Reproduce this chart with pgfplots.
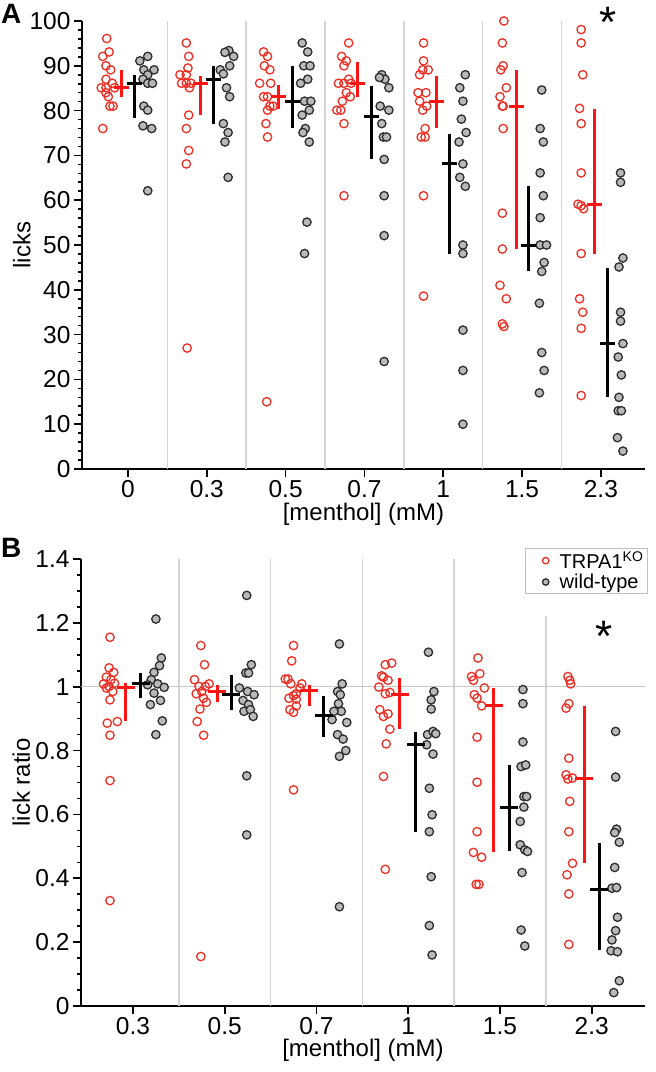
\documentclass[border=0pt]{standalone}
\usepackage{fontspec}
\setmainfont{Liberation Sans}
\usepackage{pgfplots}
\usepackage{pgfplotstable}
\pgfplotsset{compat=1.18}

\definecolor{koRed}{RGB}{238,45,35}
\definecolor{koFill}{RGB}{255,222,216}
\definecolor{barRed}{RGB}{255,20,20}
\definecolor{wtEdge}{RGB}{45,45,45}
\definecolor{wtFill}{RGB}{185,185,185}
\definecolor{sepGray}{RGB}{212,212,212}

% panel A: licks, x = group index + jitter
\pgfplotstableread{
x y
-0.27 96.1
-0.32 92.1
-0.24 93.1
-0.28 90.0
-0.22 89.1
-0.28 87.0
-0.20 86.1
-0.34 85.1
-0.28 85.1
-0.17 85.1
-0.28 84.0
-0.25 83.1
-0.23 81.0
-0.19 81.0
-0.32 76.0
0.74 95.1
0.77 92.1
0.76 89.5
0.66 88.0
0.74 88.0
0.68 86.1
0.74 86.1
0.80 86.1
0.78 85.1
0.77 79.0
0.74 76.0
0.77 71.1
0.74 68.1
0.75 27.0
1.72 93.1
1.77 92.1
1.73 90.0
1.80 89.1
1.67 86.1
1.81 86.1
1.72 83.1
1.77 83.1
1.84 81.0
1.80 81.0
1.77 80.1
1.75 77.1
1.77 74.1
1.76 15.0
2.80 95.1
2.71 92.1
2.77 91.1
2.74 90.0
2.80 87.0
2.67 86.1
2.74 86.1
2.83 86.1
2.77 84.0
2.82 83.1
2.72 82.1
2.65 80.1
2.70 80.1
2.74 77.1
2.74 61.0
3.75 95.1
3.75 91.1
3.70 88.0
3.74 89.1
3.81 89.1
3.68 84.0
3.78 84.0
3.70 82.1
3.79 81.0
3.74 80.1
3.77 76.0
3.72 74.1
3.77 74.1
3.75 61.0
3.75 38.6
4.77 100.0
4.75 95.1
4.76 90.0
4.73 89.1
4.80 85.1
4.72 83.1
4.75 81.0
4.76 81.0
4.76 76.0
4.75 57.1
4.75 49.1
4.72 41.0
4.80 38.0
4.75 32.4
4.77 31.8
5.75 98.1
5.75 95.1
5.77 88.0
5.73 80.5
5.75 77.1
5.75 66.1
5.71 59.1
5.75 58.8
5.78 58.1
5.75 48.1
5.73 38.0
5.77 35.0
5.75 31.4
5.75 16.4
}\Ako

\pgfplotstableread{
x y
0.25 92.1
0.15 91.1
0.20 89.1
0.33 89.1
0.25 88.0
0.19 87.0
0.25 86.1
0.31 86.1
0.20 81.0
0.25 80.1
0.19 76.6
0.30 76.0
0.25 62.1
1.28 93.4
1.23 93.0
1.34 92.1
1.29 90.0
1.17 89.1
1.21 88.2
1.25 85.1
1.29 83.1
1.21 77.1
1.27 75.1
1.23 73.0
1.27 65.1
2.21 95.1
2.28 93.1
2.23 90.0
2.31 90.0
2.28 87.0
2.19 86.1
2.24 82.1
2.32 82.1
2.30 80.1
2.21 79.0
2.25 76.0
2.22 75.1
2.30 73.0
2.27 55.1
2.24 48.1
3.22 88.0
3.26 87.0
3.19 87.4
3.31 85.1
3.20 81.0
3.31 80.1
3.22 77.1
3.24 74.1
3.28 74.1
3.25 69.1
3.25 61.0
3.25 52.1
3.25 24.0
4.28 88.0
4.21 85.1
4.25 82.1
4.23 78.1
4.29 75.1
4.20 73.0
4.25 68.1
4.21 65.1
4.28 63.1
4.25 50.0
4.25 48.1
4.25 31.0
4.25 22.0
4.25 10.0
5.25 84.6
5.23 76.0
5.27 73.0
5.23 66.1
5.27 61.0
5.23 56.1
5.23 50.0
5.31 50.0
5.28 46.1
5.25 44.1
5.22 37.0
5.25 26.0
5.28 22.0
5.22 17.0
6.25 66.1
6.25 64.0
6.28 47.1
6.23 45.1
6.25 35.0
6.25 33.0
6.28 28.0
6.22 25.0
6.26 21.0
6.23 16.0
6.22 13.0
6.26 13.0
6.21 7.0
6.28 4.0
}\Awt

% centre line and bar ends (plus / minus from centre)
\pgfplotstableread{
x m ep em
-0.08 85.1 4.0 2.0
0.915 86.1 1.7 7.1
1.915 83.1 2.7 2.8
2.915 86.1 4.7 3.0
3.915 82.1 5.7 5.9
4.93 81.0 8.1 31.9
5.915 59.1 21.2 11.0
}\Akosum

\pgfplotstableread{
x m ep em
0.08 86.1 1.9 7.8
1.08 87.0 3.0 9.9
2.085 82.1 7.9 5.9
3.085 78.6 6.9 9.5
4.085 68.1 6.7 20.0
5.085 50.0 13.1 5.9
6.08 28.0 16.9 12.0
}\Awtsum

% panel B: lick ratio
\pgfplotstableread{
x y
-0.25 1.155
-0.26 1.059
-0.21 1.045
-0.29 1.030
-0.24 1.022
-0.32 1.009
-0.26 1.001
-0.20 1.011
-0.29 0.996
-0.22 0.985
-0.25 0.959
-0.28 0.886
-0.17 0.891
-0.25 0.848
-0.25 0.706
-0.25 0.330
0.74 1.129
0.78 1.069
0.67 1.022
0.72 1.001
0.83 1.009
0.79 1.001
0.69 0.978
0.75 0.985
0.77 0.964
0.80 0.951
0.73 0.930
0.70 0.891
0.77 0.848
0.74 0.155
1.75 1.129
1.73 1.081
1.66 1.024
1.69 1.024
1.72 1.009
1.84 1.009
1.82 0.996
1.78 0.978
1.75 0.972
1.70 0.964
1.78 0.961
1.78 0.940
1.71 0.928
1.75 0.920
1.75 0.677
2.75 1.069
2.82 1.074
2.71 1.034
2.73 1.030
2.78 1.020
2.68 0.999
2.75 0.978
2.80 0.982
2.69 0.928
2.73 0.907
2.78 0.915
2.80 0.867
2.76 0.821
2.73 0.719
2.75 0.428
3.76 1.090
3.69 1.032
3.78 1.041
3.71 1.020
3.83 0.996
3.72 0.975
3.75 0.964
3.80 0.940
3.75 0.842
3.75 0.701
3.75 0.546
3.71 0.481
3.80 0.466
3.74 0.381
3.77 0.381
4.74 1.032
4.76 1.020
4.77 1.009
4.75 0.947
4.72 0.933
4.75 0.776
4.72 0.724
4.74 0.711
4.79 0.714
4.76 0.641
4.75 0.546
4.79 0.447
4.73 0.411
4.75 0.351
4.75 0.193
}\Bko

\pgfplotstableread{
x y
0.25 1.212
0.31 1.090
0.29 1.066
0.23 1.045
0.20 1.022
0.16 1.006
0.27 1.009
0.34 0.998
0.23 0.980
0.30 0.957
0.19 0.944
0.32 0.893
0.25 0.850
1.24 1.286
1.29 1.069
1.23 1.043
1.26 1.043
1.16 0.996
1.25 0.985
1.32 0.975
1.20 0.957
1.26 0.944
1.21 0.923
1.28 0.928
1.31 0.907
1.24 0.721
1.24 0.536
2.25 1.134
2.28 1.009
2.23 0.985
2.26 0.975
2.24 0.947
2.27 0.923
2.19 0.923
2.17 0.897
2.33 0.888
2.23 0.850
2.29 0.836
2.32 0.800
2.25 0.782
2.25 0.311
3.22 1.108
3.28 0.985
3.25 0.959
3.25 0.930
3.21 0.850
3.27 0.860
3.30 0.853
3.20 0.818
3.27 0.789
3.23 0.682
3.26 0.599
3.23 0.546
3.25 0.405
3.23 0.252
3.26 0.160
4.25 0.991
4.25 0.947
4.25 0.827
4.23 0.750
4.28 0.755
4.26 0.656
4.29 0.656
4.26 0.623
4.22 0.578
4.22 0.505
4.27 0.489
4.30 0.484
4.24 0.418
4.23 0.238
4.27 0.188
5.26 0.860
5.26 0.717
5.27 0.554
5.25 0.543
5.30 0.513
5.25 0.434
5.22 0.369
5.27 0.371
5.28 0.278
5.26 0.236
5.22 0.207
5.21 0.173
5.28 0.170
5.30 0.079
5.24 0.042
}\Bwt

\pgfplotstableread{
x m ep em
-0.08 0.998 0.014 0.105
0.92 0.985 0.021 0.034
1.92 0.989 0.017 0.049
2.91 0.977 0.050 0.110
3.93 0.940 0.056 0.459
4.92 0.714 0.226 0.267
}\Bkosum

\pgfplotstableread{
x m ep em
0.087 1.009 0.034 0.044
1.07 0.975 0.063 0.049
2.08 0.909 0.063 0.065
3.08 0.818 0.039 0.272
4.10 0.623 0.131 0.139
5.08 0.366 0.144 0.190
}\Bwtsum

\pgfplotsset{
  panel/.style={
    scale only axis, anchor=south west, clip=false,
    axis x line*=bottom, axis y line*=left,
    axis line style={line width=2pt, black},
    tick align=outside,
    major tick length=8pt, minor tick length=4pt,
    every tick/.style={line width=1.6pt, black},
    xtick={0,...,6}, minor x tick num=0,
    tick label style={font=\fontsize{24.5}{28}\selectfont},
    label style={font=\fontsize{24}{28}\selectfont},
  },
  kopts/.style={only marks, mark=o, mark size=4.2pt,
    mark options={draw=koRed, fill=koFill, line width=1.3pt}},
  wtopts/.style={only marks, mark=*, mark size=4.2pt,
    mark options={draw=wtEdge, fill=wtFill, line width=1.3pt}},
  crossopts/.style={only marks, mark=-, forget plot,
    mark options={line width=3pt, draw=#1},
    error bars/.cd, y dir=both, y explicit, error mark=none,
    error bar style={line width=3pt, draw=#1}, /pgfplots/.cd},
}

\begin{document}
\begin{tikzpicture}
\path[use as bounding box] (0,0) rectangle (656pt,-1072pt);

\node[anchor=north west, font=\bfseries\fontsize{28}{28}\selectfont, inner sep=0pt] at (1pt,-4pt) {A};
\node[anchor=north west, font=\bfseries\fontsize{28}{28}\selectfont, inner sep=0pt] at (1pt,-538pt) {B};

% ---------- A ----------
\begin{axis}[panel,
  at={(82pt,-469pt)}, width=563pt, height=448pt,
  xmin=-0.584, xmax=6.56, ymin=0, ymax=100,
  xticklabels={0,0.3,0.5,0.7,1,1.5,2.3},
  ytick={0,10,...,100},
  yticklabels={0,10,20,30,40,50,60,70,80,90,100},
  minor y tick num=4,
  xlabel={[menthol] (mM)}, ylabel={licks},
  xlabel style={at={(axis description cs:0.5,-0.10)}, anchor=center},
  ylabel style={at={(axis description cs:-0.107,0.5)}, anchor=center},
]
\pgfplotsinvokeforeach{0.5,1.5,2.5,3.5,4.5,5.5}{
  \draw[sepGray, line width=1.5pt] (axis cs:#1,0) -- (axis cs:#1,100);
}
\addplot[kopts] table[x=x,y=y]{\Ako};
\addplot[wtopts] table[x=x,y=y]{\Awt};
\addplot[mark size=7.5pt, crossopts=barRed]
  table[x=x,y=m,y error plus=ep,y error minus=em]{\Akosum};
\addplot[mark size=7.5pt, crossopts=black]
  table[x=x,y=m,y error plus=ep,y error minus=em]{\Awtsum};
\node[anchor=base, font=\fontsize{44}{44}\selectfont, inner sep=0pt] at (axis cs:6.09,96.4) {*};
\end{axis}

% ---------- B ----------
\begin{axis}[panel,
  at={(81pt,-1006pt)}, width=564pt, height=447pt,
  xmin=-0.566, xmax=5.58, ymin=0, ymax=1.4,
  xtick={0,...,5},
  xticklabels={0.3,0.5,0.7,1,1.5,2.3},
  ytick={0,0.2,0.4,0.6,0.8,1,1.2,1.4},
  yticklabels={0,0.2,0.4,0.6,0.8,1,1.2,1.4},
  minor y tick num=3,
  xlabel={[menthol] (mM)}, ylabel={lick ratio},
  xlabel style={at={(axis description cs:0.5,-0.10)}, anchor=center},
  ylabel style={at={(axis description cs:-0.106,0.5)}, anchor=center},
  legend style={at={(1.005,1.025)}, anchor=north east,
    draw=black!25, line width=0.8pt, fill=white,
    font=\fontsize{20}{21}\selectfont,
    inner xsep=2pt, inner ysep=1pt, row sep=0pt},
  legend cell align=left,
  legend image code/.code={\path[draw=none] (0pt,-1pt) rectangle (30pt,1pt);
    \draw[#1, mark size=3.2pt] plot coordinates {(18pt,0pt)};},
]
\pgfplotsinvokeforeach{0.5,1.5,2.5,3.5}{
  \draw[sepGray, line width=1.5pt] (axis cs:#1,0) -- (axis cs:#1,1.4);
}
\draw[sepGray, line width=1.5pt] (axis cs:4.5,0) -- (axis cs:4.5,1.22);
\draw[black!22, line width=1pt] (axis cs:-0.566,1) -- (axis cs:5.58,1);
\addplot[kopts] table[x=x,y=y]{\Bko};
\addlegendentry{TRPA1\textsuperscript{KO}}
\addplot[wtopts] table[x=x,y=y]{\Bwt};
\addlegendentry{wild-type}
\addplot[mark size=9pt, crossopts=barRed]
  table[x=x,y=m,y error plus=ep,y error minus=em]{\Bkosum};
\addplot[mark size=9pt, crossopts=black]
  table[x=x,y=m,y error plus=ep,y error minus=em]{\Bwtsum};
\node[anchor=base, font=\fontsize{44}{44}\selectfont, inner sep=0pt] at (axis cs:5.13,1.11) {*};
\end{axis}
\end{tikzpicture}
\end{document}
